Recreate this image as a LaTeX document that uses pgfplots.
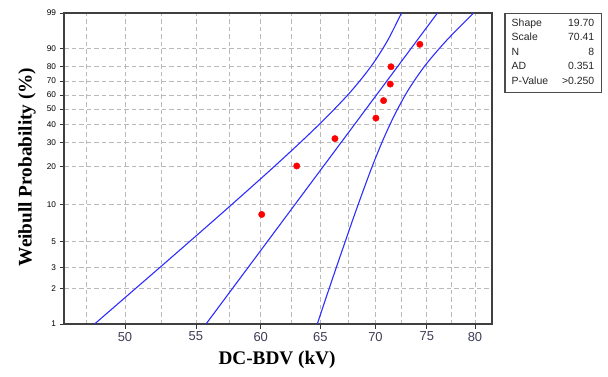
\documentclass[border=0pt]{standalone}
\usepackage{pgfplots}
\pgfplotsset{compat=1.18}
\usepackage{fontspec}
\setmainfont{Liberation Serif}
\newfontfamily\tah{Liberation Sans}
\definecolor{tickc}{RGB}{60,60,85}
\definecolor{gridc}{RGB}{185,185,185}
\definecolor{cib}{RGB}{45,45,255}
\begin{document}
\begin{tikzpicture}[x=1bp,y=1bp]
\useasboundingbox (0,0) rectangle (608,376);
\begin{axis}[
  at={(64bp,52bp)}, anchor=south west,
  scale only axis, width=428bp, height=311bp,
  xmode=log, xmin=46.07, xmax=81.86,
  ymin=-4.60015, ymax=1.52718,
  xtick={50,55,60,65,70,75,80},
  xticklabels={50,55,60,65,70,75,80},
  minor xtick={47.5,52.5,57.5,62.5,67.5,72.5,77.5},
  ytick={-4.60015,-3.90194,-3.49137,-2.97020,-2.25037,-1.49994,-1.03093,-0.67173,-0.36651,-0.08742,0.18563,0.47588,0.83403,1.52718},
  yticklabels={1,2,3,5,10,20,30,40,50,60,70,80,90,99},
  grid=both,
  major grid style={gridc, dash pattern=on 4.5bp off 3bp, line width=0.8bp},
  minor grid style={gridc, dash pattern=on 4.5bp off 3bp, line width=0.8bp},
  tick align=outside, xtick pos=bottom, ytick pos=left,
  major tick length=4.5bp, minor tick length=0bp,
  tick style={black!80, line width=0.8bp},
  xticklabel style={font=\tah\fontsize{13}{13}\selectfont, text=tickc},
  yticklabel style={font=\tah\fontsize{8.3}{8.3}\selectfont, text=black},
  axis line style={black!75, line width=1.3bp},
  xlabel={DC-BDV (kV)},
  ylabel={Weibull Probability (\%)},
  xlabel style={font=\fontsize{19.3}{19.3}\selectfont\bfseries, at={(axis description cs:0.4977,-0.1158)}, anchor=center},
  ylabel style={font=\fontsize{19.3}{19.3}\selectfont\bfseries, at={(axis description cs:-0.0864,0.505)}, anchor=center},
  clip=true,
]
% lower confidence bound (left curve)
\addplot[cib, line width=1.1bp, smooth, tension=0.5] coordinates {
 (48.00,-4.60015) (50.32,-4.0) (52.34,-3.5) (54.43,-3.0) (56.59,-2.5) (58.81,-2.0)
 (61.09,-1.5) (63.39,-1.0) (65.66,-0.5) (67.80,0.0) (69.67,0.5) (71.19,1.0) (72.49,1.52718)};
% upper confidence bound (right curve)
\addplot[cib, line width=1.1bp, smooth, tension=0.5] coordinates {
 (64.74,-4.60015) (65.63,-4.0) (66.39,-3.5) (67.17,-3.0) (67.97,-2.5) (68.81,-2.0)
 (69.69,-1.5) (70.66,-1.0) (71.77,-0.5) (73.12,0.0) (74.86,0.5) (77.08,1.0) (79.86,1.52718)};
% fitted line
\addplot[cib, line width=1.1bp] coordinates {(55.75,-4.60015) (76.08,1.52718)};
% data
\addplot[only marks, mark=*, mark size=3.2bp, color=red, mark options={fill=red, draw=red}] coordinates {
 (60.08,-2.44172) (62.97,-1.48665) (66.29,-0.94735) (70.04,-0.54358)
 (70.77,-0.19857) (71.40,0.12662) (71.47,0.46845) (74.30,0.91024)};
\end{axis}
\draw[black!70, line width=1.1bp] (505,283.7) rectangle (601.7,362.7);
\begin{scope}[every node/.style={font=\tah\fontsize{10.5}{10.5}\selectfont, text=black!85, inner sep=0pt}]
\node[anchor=west] at (511.5,352.7) {Shape};
\node[anchor=west] at (511.5,338.9) {Scale};
\node[anchor=west] at (511.5,324.3) {N};
\node[anchor=west] at (511.5,309.7) {AD};
\node[anchor=west] at (511.5,295.1) {P-Value};
\node[anchor=east] at (594.5,352.7) {19.70};
\node[anchor=east] at (594.5,338.9) {70.41};
\node[anchor=east] at (594.5,324.3) {8};
\node[anchor=east] at (594.5,309.7) {0.351};
\node[anchor=east] at (594.5,295.1) {>0.250};
\end{scope}
\end{tikzpicture}
\end{document}
